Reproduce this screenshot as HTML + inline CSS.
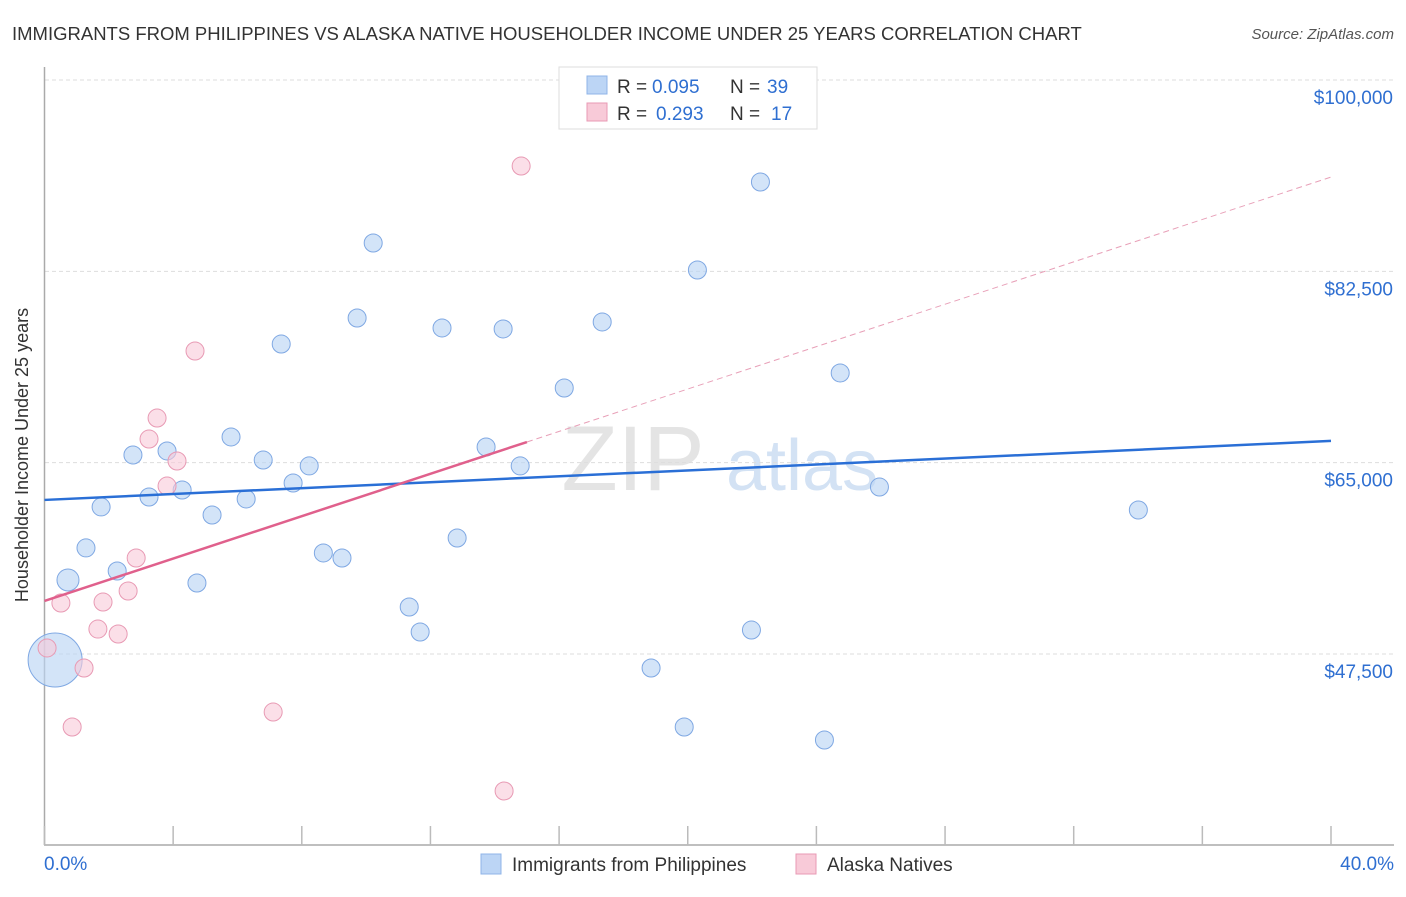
<!DOCTYPE html>
<html><head><meta charset="utf-8">
<style>
body{margin:0;background:#fff;font-family:"Liberation Sans",sans-serif;}
svg text{font-family:"Liberation Sans",sans-serif;}
</style></head>
<body>
<svg id="chart" width="1406" height="892" xmlns="http://www.w3.org/2000/svg">
<text x="12" y="40" font-size="18.5" fill="#333">IMMIGRANTS FROM PHILIPPINES VS ALASKA NATIVE HOUSEHOLDER INCOME UNDER 25 YEARS CORRELATION CHART</text>
<text x="1394" y="39" font-size="15" fill="#555" font-style="italic" text-anchor="end">Source: ZipAtlas.com</text>
<g>
<text x="633" y="490" font-size="92" fill="#e4e4e4" text-anchor="middle" font-family="Liberation Serif">ZIP</text>
<text x="802" y="490" font-size="72" fill="#d3e2f4" text-anchor="middle">atlas</text>
</g>
<g id="grid"></g>
<g id="axes"></g>
<g id="marks"></g>
<g>
<rect x="559" y="67" width="258" height="62" fill="#fff" stroke="#ddd"/>
<rect x="587" y="76" width="20" height="18" fill="#bcd5f5" stroke="#8fb4e8"/>
<rect x="587" y="103" width="20" height="18" fill="#f8cad8" stroke="#e89ab4"/>
<text x="617" y="93" font-size="19" fill="#333">R =</text>
<text x="652" y="93" font-size="19" fill="#2f6fd1">0.095</text>
<text x="730" y="93" font-size="19" fill="#333">N =</text>
<text x="767" y="93" font-size="19" fill="#2f6fd1">39</text>
<text x="617" y="120" font-size="19" fill="#333">R =</text>
<text x="656" y="120" font-size="19" fill="#2f6fd1">0.293</text>
<text x="730" y="120" font-size="19" fill="#333">N =</text>
<text x="771" y="120" font-size="19" fill="#2f6fd1">17</text>
</g>
<g>
<rect x="481" y="854" width="20" height="20" fill="#bcd5f5" stroke="#8fb4e8"/>
<text x="512" y="871" font-size="19" fill="#333">Immigrants from Philippines</text>
<rect x="796" y="854" width="20" height="20" fill="#f8cad8" stroke="#e89ab4"/>
<text x="827" y="871" font-size="19" fill="#333">Alaska Natives</text>
</g>
<text x="28" y="455" font-size="18" fill="#333" text-anchor="middle" transform="rotate(-90 28 455)">Householder Income Under 25 years</text>
</svg>
<script>
const yTicks=[47500,65000,82500,100000];
const yTickLabels=["$47,500","$65,000","$82,500","$100,000"];
const xTickCount=[0,4,8,12,16,20,24,28,32,36,40];
const xEndLabels=["0.0%","40.0%"];
const bluePct=[0.33,0.73,1.29,1.76,2.26,2.75,3.25,3.81,4.28,4.74,5.21,5.80,6.27,6.80,7.36,7.73,8.23,8.67,9.25,9.72,10.22,11.34,11.68,12.36,12.83,13.73,14.26,14.79,16.16,17.34,18.86,19.89,20.30,21.98,22.26,24.25,24.74,25.96,34.01];
const blueVal=[46950,54270,57200,60950,55090,65700,61860,66070,62500,53990,60210,67350,61680,65240,75850,63140,64700,56740,56280,78230,85090,51800,49510,77320,58110,66430,77230,64700,71830,77870,46220,40820,82620,49690,90670,39630,73200,62770,60670];
const blueSize=[27,11,9,9,9,9,9,9,9,9,9,9,9,9,9,9,9,9,9,9,9,9,9,9,9,9,9,9,9,9,9,9,9,9,9,9,9,9,9];
const pinkPct=[0.08,0.51,0.86,1.23,1.66,1.82,2.29,2.60,2.85,3.25,3.50,3.81,4.12,4.68,7.11,14.29,14.82];
const pinkVal=[48050,52160,40820,46220,49780,52250,49330,53260,56280,67160,69080,62860,65150,75210,42190,34970,92130];
const blueTrend=[61590,66990];
const pinkTrend=[52350,91120];
const pinkSolidEnd=15;

const NS="http://www.w3.org/2000/svg";
const X0=44.5,X1=1331,Y0=80,PX=0.010933;
const xs=p=>X0+(X1-X0)*p/40;
const ys=v=>Y0+(100000-v)*PX;
function mk(t,a,parent){const e=document.createElementNS(NS,t);for(const k in a)e.setAttribute(k,a[k]);document.getElementById(parent).appendChild(e);return e;}

yTicks.forEach((v,i)=>{
 const g=mk('line',{x1:45,x2:1394,y1:ys(v),y2:ys(v),stroke:'#ddd','stroke-dasharray':'4,3'},'grid');
 
 
 const t=mk('text',{x:1393,y:ys(v)+24,'font-size':19,fill:'#2f6fd1','text-anchor':'end'},'axes');
 t.textContent=yTickLabels[i];
 
 
});
const yAxisLine=mk('line',{x1:44.5,x2:44.5,y1:67,y2:845,stroke:'#aaa','stroke-width':1.5},'axes');


const xAxisLine=mk('line',{x1:44,x2:1394,y1:845,y2:845,stroke:'#aaa','stroke-width':1.5},'axes');


xTickCount.forEach(p=>{
 const l=mk('line',{x1:xs(p),x2:xs(p),y1:826,y2:845,stroke:'#bbb','stroke-width':1.5},'axes');
 
 
});
[[0,'start',44],[40,'end',1394]].forEach((d,i)=>{
 const t=mk('text',{x:d[2],y:870,'font-size':19,fill:'#2f6fd1','text-anchor':d[1]},'axes');
 t.textContent=xEndLabels[i];
 
 
});

bluePct.forEach((p,i)=>{
 const c=mk('circle',{cx:xs(p),cy:ys(blueVal[i]),r:blueSize[i],fill:'#bcd5f5','fill-opacity':0.65,stroke:'#7fa8e3','stroke-width':1},'marks');
 
 
});
pinkPct.forEach((p,i)=>{
 const c=mk('circle',{cx:xs(p),cy:ys(pinkVal[i]),r:9,fill:'#f8cad8','fill-opacity':0.6,stroke:'#e89ab4','stroke-width':1},'marks');
 
 
});
const bt=mk('line',{x1:xs(0),y1:ys(blueTrend[0]),x2:xs(40),y2:ys(blueTrend[1]),stroke:'#2a6fd6','stroke-width':2.5},'marks');


const pe=pinkTrend[0]+(pinkTrend[1]-pinkTrend[0])*pinkSolidEnd/40;
const pt=mk('line',{x1:xs(0),y1:ys(pinkTrend[0]),x2:xs(pinkSolidEnd),y2:ys(pe),stroke:'#e0608c','stroke-width':2.5},'marks');


const pd=mk('line',{x1:xs(pinkSolidEnd),y1:ys(pe),x2:xs(40),y2:ys(pinkTrend[1]),stroke:'#e8a0b8','stroke-width':1,'stroke-dasharray':'6,4'},'marks');


</script>
</body></html>
